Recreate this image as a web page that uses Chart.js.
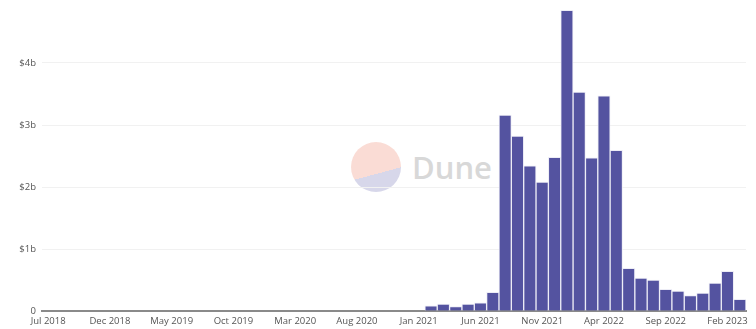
<!DOCTYPE html>
<html>
<head>
<meta charset="utf-8">
<script src="https://cdn.jsdelivr.net/npm/chart.js@4"></script>
<style>
  html, body { margin: 0; padding: 0; background: #ffffff; }
  #wrap { position: relative; width: 756px; height: 329px; }
  #wm { position: absolute; left: 351px; top: 142px; height: 50px; display: flex; align-items: center; z-index: 0; }
  #wm .logo { width: 50px; height: 50px; border-radius: 50%;
    background: linear-gradient(165deg, #fadcd5 0%, #fadcd5 61%, #d7d7ea 61%, #d7d7ea 100%); }
  #wm .txt { margin-left: 11px; font-family: "Open Sans", sans-serif; font-weight: 600; font-size: 31px; color: #d8d8d8; letter-spacing: 0px; }
  canvas { position: absolute; left: 0; top: 0; z-index: 1; }
</style>
</head>
<body>
<div id="wrap">
  <div id="wm"><div class="logo"></div><span class="txt">Dune</span></div>
  <canvas id="c" width="756" height="329"></canvas>
</div>
<script>
const months = [
  "Jul 2018","Aug 2018","Sep 2018","Oct 2018","Nov 2018","Dec 2018",
  "Jan 2019","Feb 2019","Mar 2019","Apr 2019","May 2019","Jun 2019","Jul 2019","Aug 2019","Sep 2019","Oct 2019","Nov 2019","Dec 2019",
  "Jan 2020","Feb 2020","Mar 2020","Apr 2020","May 2020","Jun 2020","Jul 2020","Aug 2020","Sep 2020","Oct 2020","Nov 2020","Dec 2020",
  "Jan 2021","Feb 2021","Mar 2021","Apr 2021","May 2021","Jun 2021","Jul 2021","Aug 2021","Sep 2021","Oct 2021","Nov 2021","Dec 2021",
  "Jan 2022","Feb 2022","Mar 2022","Apr 2022","May 2022","Jun 2022","Jul 2022","Aug 2022","Sep 2022","Oct 2022","Nov 2022","Dec 2022",
  "Jan 2023","Feb 2023","Mar 2023"
];
// Volume in billions USD
const volumeB = [
  0,0,0,0,0,0,
  0,0,0,0,0,0,0,0,0,0,0,0,
  0,0,0,0,0,0,0,0,0,0,0,0,
  0,0.085,0.11,0.07,0.11,0.13,0.30,3.16,2.82,2.34,2.08,2.48,
  4.85,3.53,2.47,3.47,2.59,0.69,0.53,0.50,0.35,0.32,0.25,0.29,
  0.45,0.64,0.19
];
const yTicks = [0,1,2,3,4];

const tickFont = { family: "'Open Sans', sans-serif", size: 9.5 };
new Chart(document.getElementById('c'), {
  type: 'bar',
  data: {
    labels: months,
    datasets: [{
      data: volumeB.map(v => v * 1e9),
      backgroundColor: '#5453a0',
      borderColor: 'rgba(235,235,245,0.9)',
      borderWidth: 1,
      borderSkipped: 'bottom',
      barPercentage: 1,
      categoryPercentage: 1
    }]
  },
  options: {
    responsive: false,
    animation: false,
    layout: { padding: { top: 1, right: 10, left: 0, bottom: 0 } },
    plugins: { legend: { display: false }, tooltip: { enabled: false } },
    scales: {
      x: {
        grid: { display: false, drawTicks: false },
        border: { display: true, color: '#8a8a8a', width: 2 },
        ticks: {
          autoSkip: false, maxRotation: 0, minRotation: 0, padding: 5,
          color: '#555', font: tickFont,
          callback: function(v, i) { return i % 5 === 0 ? months[i] : ''; }
        },
        afterFit: function(a) { a.height = 18; }
      },
      y: {
        min: 0, max: 5e9,
        afterBuildTicks: function(a) { a.ticks = yTicks.map(v => ({ value: v * 1e9 })); },
        grid: {
          drawTicks: false,
          color: function(ctx) { return (ctx.tick && ctx.tick.value > 0) ? '#f1f1f1' : 'rgba(0,0,0,0)'; },
          lineWidth: 1
        },
        border: { display: false },
        ticks: {
          padding: 6, color: '#555', font: tickFont,
          callback: function(v) { return v === 0 ? '0' : '$' + (v / 1e9) + 'b'; }
        },
        afterFit: function(a) { a.width = 42; a.paddingTop = 0; }
      }
    }
  }
});
</script>
</body>
</html>
